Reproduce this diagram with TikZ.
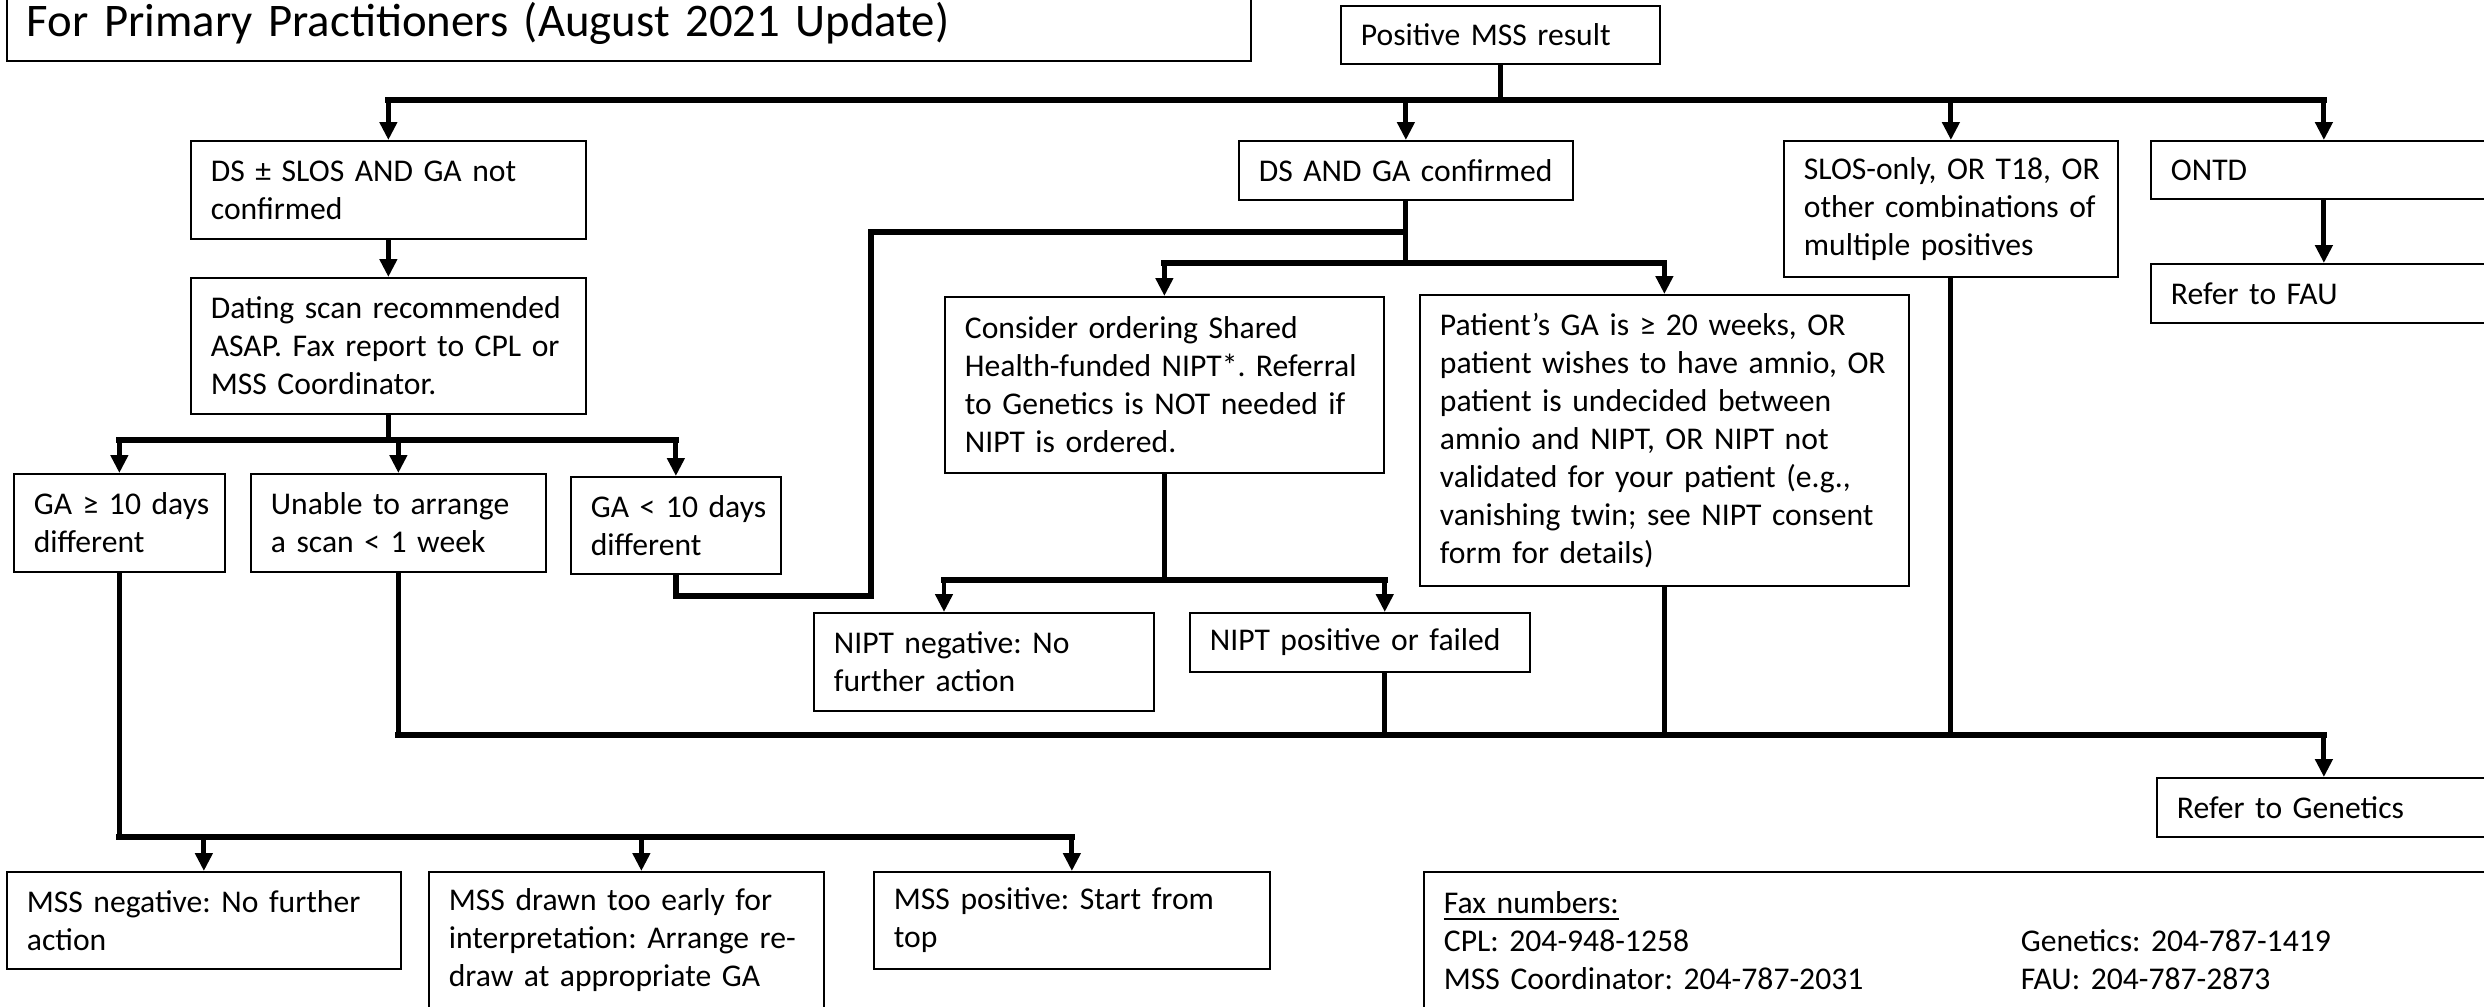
\documentclass[tikz,border=0pt]{standalone}
\usepackage{fontspec}
\setmainfont{Carlito}
\usepackage{tikz}
\usetikzlibrary{arrows.meta}
\frenchspacing

\begin{document}
\begin{tikzpicture}[x=0.1mm,y=-0.1mm,font=\fontsize{9}{10.8}\selectfont,
    box/.style={draw,line width=0.5pt,anchor=north west,align=left,inner xsep=2mm,inner ysep=0pt},
    bus/.style={line width=1.7pt,line cap=rect},
    stem/.style={line width=1.4pt},
    arr/.style={line width=1.4pt,-{Triangle[length=1.8mm,width=1.7mm]}}]
    \useasboundingbox[fill=white] (0,0) rectangle (2484,1006);
    % Title and start
    \node[box,anchor=south west,text width=120.4mm,minimum height=7.6mm,font=\fontsize{13.3}{16}\selectfont]
        (title) at (6,62) {For Primary Practitioners (August 2021 Update)};
    \node[box,text width=27.9mm,minimum height=5.8mm] (pos) at (1340,5) {Positive MSS result};
    % First row of results
    \node[box,text width=35.5mm,minimum height=9.8mm] (dsnc) at (190,140) {DS ± SLOS AND GA not\\confirmed};
    \node[box,text width=29.4mm,minimum height=5.9mm] (dsc) at (1238,140) {DS AND GA confirmed};
    \node[box,text width=29.4mm,minimum height=13.6mm] (slos) at (1783,140)
        {\mbox{SLOS-only, OR T18, OR}\\other combinations of\\multiple positives};
    \node[box,text width=30.6mm,minimum height=5.8mm] (ontd) at (2150,140) {ONTD};
    \node[box,text width=30.6mm,minimum height=5.9mm] (fau) at (2150,263) {Refer to FAU};
    % Dating scan branch
    \node[box,text width=35.5mm,minimum height=13.6mm] (dating) at (190,277)
        {Dating scan recommended\\ASAP. Fax report to CPL or\\MSS Coordinator.};
    \node[box,text width=17.1mm,minimum height=9.8mm] (gabig) at (13,473) {\mbox{GA ≥ 10 days}\\different};
    \node[box,text width=25.5mm,minimum height=9.8mm] (unable) at (250,473) {Unable to arrange\\a scan < 1 week};
    \node[box,text width=17mm,minimum height=9.7mm] (gasmall) at (570,476) {\mbox{GA < 10 days}\\different};
    % NIPT branch
    \node[box,text width=39.9mm,minimum height=17.6mm] (nipt) at (944,296)
        {Consider ordering Shared\\Health-funded NIPT*. Referral\\to Genetics is NOT needed if\\NIPT is ordered.};
    \node[box,text width=44.9mm,minimum height=29.1mm] (amnio) at (1419,294)
        {Patient’s GA is ≥ 20 weeks, OR\\patient wishes to have amnio, OR\\patient is undecided between\\amnio and NIPT, OR NIPT not\\validated for your patient (e.g.,\\vanishing twin; see NIPT consent\\form for details)};
    \node[box,text width=30mm,minimum height=9.8mm] (niptneg) at (813,612) {NIPT negative: No\\further action};
    \node[box,text width=30mm,minimum height=5.9mm] (niptpos) at (1189,612) {NIPT positive or failed};
    \node[box,text width=29.4mm,minimum height=5.9mm] (genetics) at (2156,777) {Refer to Genetics};
    % Outcomes after redraw
    \node[box,text width=35.4mm,minimum height=9.7mm] (mssneg) at (6,871) {MSS negative: No further\\action};
    \node[box,text width=35.5mm,minimum height=13.6mm] (early) at (428,871)
        {MSS drawn too early for\\interpretation: Arrange re-\\draw at appropriate GA};
    \node[box,text width=35.6mm,minimum height=9.7mm] (msspos) at (873,871) {MSS positive: Start from\\top};
    \node[box,text width=102.7mm,minimum height=13.8mm] (fax) at (1423,871)
        {\underline{Fax numbers:}\\
         \makebox[57.7mm][l]{CPL: 204-948-1258}Genetics: 204-787-1419\\
         \makebox[57.7mm][l]{MSS Coordinator: 204-787-2031}FAU: 204-787-2873};
    % Levels of the horizontal lines
    \coordinate (topbus) at (0,100);
    \coordinate (scanbus) at (0,440);
    \coordinate (gajoin) at (0,232);
    \coordinate (nipttop) at (0,263);
    \coordinate (loop) at (871,596);
    \coordinate (niptbus) at (0,580);
    \coordinate (genbus) at (0,735);
    \coordinate (redraw) at (0,837);
    % Split of the positive result
    \draw[stem] (pos.south) -- (pos.south |- topbus);
    \draw[bus] (dsnc.north |- topbus) -- (ontd.north |- topbus);
    \draw[arr] (dsnc.north |- topbus) -- (dsnc.north);
    \draw[arr] (dsc.north |- topbus) -- (dsc.north);
    \draw[arr] (slos.north |- topbus) -- (slos.north);
    \draw[arr] (ontd.north |- topbus) -- (ontd.north);
    \draw[arr] (ontd.south) -- (fau.north);
    % GA not confirmed
    \draw[arr] (dsnc.south) -- (dating.north);
    \draw[stem] (dating.south) -- (dating.south |- scanbus);
    \draw[bus] (gabig.north |- scanbus) -- (gasmall.north |- scanbus);
    \draw[arr] (gabig.north |- scanbus) -- (gabig.north);
    \draw[arr] (unable.north |- scanbus) -- (unable.north);
    \draw[arr] (gasmall.north |- scanbus) -- (gasmall.north);
    \draw[bus,line cap=butt] (gasmall.south) |- (loop) |- (dsc.south |- gajoin);
    % GA confirmed
    \draw[stem] (dsc.south) -- (dsc.south |- nipttop);
    \draw[bus] (nipt.north |- nipttop) -- (amnio.north |- nipttop);
    \draw[arr] (nipt.north |- nipttop) -- (nipt.north);
    \draw[arr] (amnio.north |- nipttop) -- (amnio.north);
    \draw[stem] (nipt.south) -- (nipt.south |- niptbus);
    \draw[bus] (nipt.south west |- niptbus) -- (nipt.south east |- niptbus);
    \draw[arr] (nipt.south west |- niptbus) -- (nipt.south west |- niptneg.north);
    \draw[arr] (nipt.south east |- niptbus) -- (nipt.south east |- niptpos.north);
    % Everything that goes to Genetics
    \draw[stem] (unable.south) -- (unable.south |- genbus);
    \draw[stem] (nipt.south east |- niptpos.south) -- (nipt.south east |- genbus);
    \draw[stem] (amnio.south) -- (amnio.south |- genbus);
    \draw[stem] (slos.south) -- (slos.south |- genbus);
    \draw[bus] (unable.south |- genbus) -- (genetics.north |- genbus);
    \draw[arr] (genetics.north |- genbus) -- (genetics.north);
    % GA 10 days or more
    \draw[stem] (gabig.south) -- (gabig.south |- redraw);
    \draw[bus] (gabig.south |- redraw) -- (msspos.north |- redraw);
    \draw[arr] (mssneg.north |- redraw) -- (mssneg.north);
    \draw[arr] ([xshift=1.5mm]early.north |- redraw) -- ([xshift=1.5mm]early.north);
    \draw[arr] (msspos.north |- redraw) -- (msspos.north);
\end{tikzpicture}
\end{document}
